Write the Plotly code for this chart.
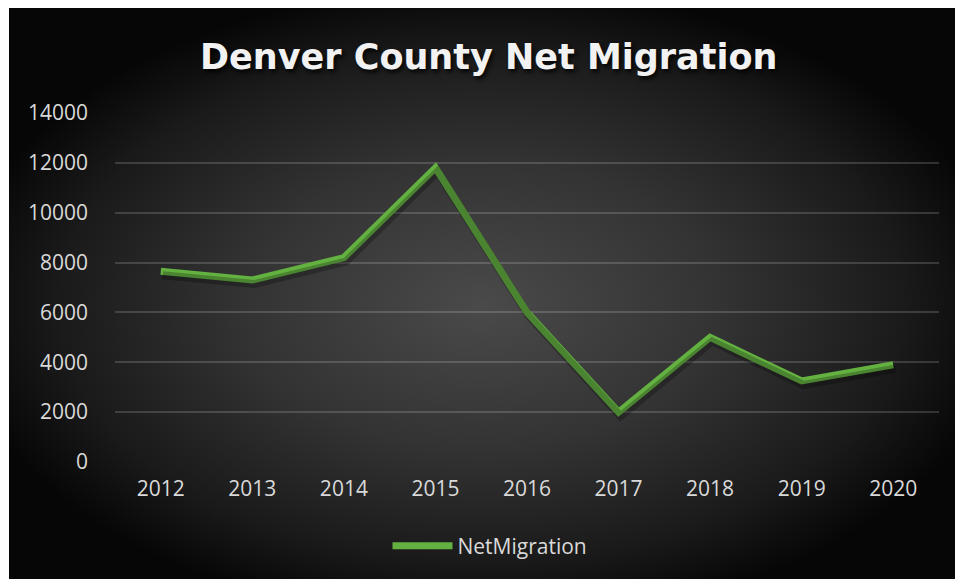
import base64
import plotly.graph_objects as go

# Net migration into Denver County by year
years = ["2012", "2013", "2014", "2015", "2016", "2017", "2018", "2019", "2020"]
net_migration = [7650, 7300, 8200, 11800, 6000, 2000, 5000, 3250, 3900]
y_ticks = [0, 2000, 4000, 6000, 8000, 10000, 12000, 14000]

title_text = "Denver County Net Migration"
series_name = "NetMigration"

W, H = 958, 579
LINE_GREEN = "#63b140"
TEXT_GRAY = "#d9d9d9"
FONT = "Open Sans"

# Radial dark backdrop, drawn as an SVG gradient image
svg = (
    '<svg xmlns="http://www.w3.org/2000/svg" width="946" height="571" '
    'preserveAspectRatio="none" viewBox="0 0 946 571">'
    '<defs><radialGradient id="g" cx="0.5" cy="0.52" r="0.56">'
    '<stop offset="0" stop-color="#4a4a4a"/>'
    '<stop offset="0.45" stop-color="#333333"/>'
    '<stop offset="0.8" stop-color="#1a1a1a"/>'
    '<stop offset="1" stop-color="#060606"/>'
    '</radialGradient></defs>'
    '<rect width="946" height="571" fill="url(#g)"/></svg>'
)
bg_src = "data:image/svg+xml;base64," + base64.b64encode(svg.encode()).decode()

# plot-area placement in pixels
px_left, px_right = 115, 939
px_top, px_bottom = 113, 462


def fx(px):
    return px / W


def fy(py):
    return (H - py) / H


shadow_dx, shadow_dy = 2, 4

fig = go.Figure()

# soft drop shadow under the line, on a duplicate axis pair nudged down-right
fig.add_trace(go.Scatter(
    x=years, y=net_migration, mode="lines",
    line=dict(color="rgba(0,0,0,0.25)", width=8),
    xaxis="x2", yaxis="y2", showlegend=False, hoverinfo="skip",
))

fig.add_trace(go.Scatter(
    x=years, y=net_migration, mode="lines", name=series_name,
    line=dict(color=LINE_GREEN, width=7),
))

fig.update_layout(
    width=W, height=H,
    margin=dict(l=0, r=0, t=0, b=0, pad=0, autoexpand=False),
    paper_bgcolor="white",
    plot_bgcolor="rgba(0,0,0,0)",
    font=dict(family=FONT, color=TEXT_GRAY, size=20),
    images=[dict(
        source=bg_src, xref="paper", yref="paper",
        x=fx(9), y=fy(8), sizex=fx(955) - fx(9), sizey=fy(8) - fy(579),
        xanchor="left", yanchor="top", sizing="stretch", layer="below",
    )],
    xaxis=dict(
        domain=[fx(px_left), fx(px_right)],
        type="category", range=[-0.5, 8.5], automargin=False,
        showgrid=False, showline=False, zeroline=False,
        ticks="", tickfont=dict(size=21, color=TEXT_GRAY, family=FONT),
        ticklabelstandoff=12,
    ),
    yaxis=dict(
        domain=[fy(px_bottom), fy(px_top)], automargin=False,
        range=[0, 14000], tickvals=y_ticks, tickformat="d",
        showgrid=True, gridcolor="rgba(255,255,255,0.16)", gridwidth=1.5,
        zeroline=False, showline=False, ticks="",
        tickfont=dict(size=21, color=TEXT_GRAY, family=FONT),
        ticklabelstandoff=26,
    ),
    xaxis2=dict(
        domain=[fx(px_left + shadow_dx), fx(px_right + shadow_dx)],
        type="category", range=[-0.5, 8.5], anchor="y2",
        visible=False, automargin=False,
    ),
    yaxis2=dict(
        domain=[fy(px_bottom + shadow_dy), fy(px_top + shadow_dy)],
        range=[0, 14000], anchor="x2", visible=False, automargin=False,
    ),
    legend=dict(
        orientation="h", x=fx(490), y=fy(546),
        xanchor="center", yanchor="middle", itemwidth=60,
        bgcolor="rgba(0,0,0,0)",
        font=dict(size=21, color=TEXT_GRAY, family=FONT),
    ),
    showlegend=True,
)

# chart title with a soft text shadow
fig.add_annotation(
    text="<b>" + title_text + "</b>", xref="paper", yref="paper",
    x=fx(488), y=fy(57), xanchor="center", yanchor="middle",
    showarrow=False,
    font=dict(family="DejaVu Sans", size=35, color="#f2f2f2",
              shadow="2px 3px 4px rgba(0,0,0,0.85)"),
)

fig.write_html("out.html")
